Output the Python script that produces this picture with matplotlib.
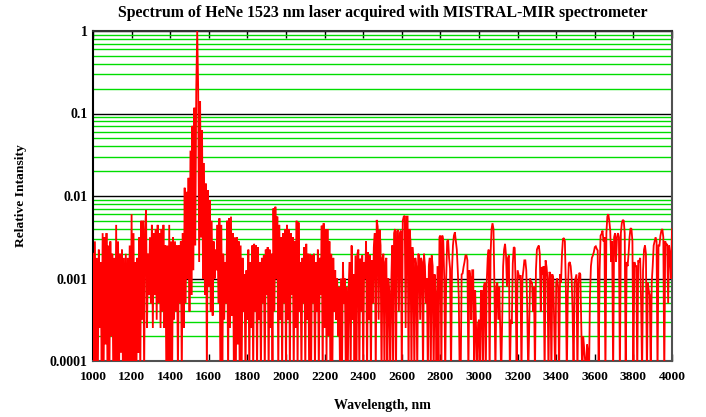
import numpy as np
import matplotlib
matplotlib.use("Agg")
import matplotlib.pyplot as plt
from matplotlib.ticker import FixedLocator, NullFormatter

STEP_NM = 5
log_i_1000 = [-2.7, -4.2, -2.55, -4.2, -2.75, -4.2, -2.65, -3.6, -2.8, -4.2,
              -2.45, -4.2, -2.5, -3.8, -2.45, -4.2, -2.6, -4.2, -2.55, -3.7,
              -2.7, -4.2, -2.75, -4.2, -2.35, -4.2, -2.55, -4.2, -2.7, -3.9,
              -2.65, -4.2, -2.75, -4.2, -2.7, -4.2, -2.75, -4.2, -2.6, -4.2,
              -2.22, -4.2, -2.45, -4.2, -2.8, -4.2, -2.75, -3.9, -2.5, -4.2,
              -2.3, -3.5, -2.3, -4.2, -2.4, -2.17, -3.6, -2.7, -3.2, -2.5,
              -3.3, -2.35, -3.6, -2.45, -3.2, -2.4, -3.5, -2.35, -3.3, -2.45,
              -3.6, -2.4, -3.4, -2.35, -3.6, -2.6, -4.2, -2.6, -4.2, -2.35,
              -4.2, -2.55, -4.2, -2.5, -3.5, -2.55, -3.4, -2.6, -4.2, -2.6,
              -3.3, -2.55, -4.2, -2.45, -3.6, -1.9, -3.3, -1.95, -3.0, -1.78]
log_i_1500 = [-3.4, -1.45, -3.2, -1.15, -2.9, -0.93, -2.6, -0.7, 0.0, -0.7,
              -2.8, -0.85, -2.5, -1.2, -3.0, -1.6, -3.2, -1.85, -4.2, -1.93,
              -3.1, -2.05, -3.4, -2.3, -3.45, -2.55, -3.0, -2.65, -2.9, -2.35,
              -3.3, -2.27, -4.2, -2.35, -4.2, -2.7, -3.5, -2.8, -3.3, -2.3,
              -4.2, -2.27, -3.6, -2.25, -3.45, -2.45, -4.2, -2.5, -4.2, -2.5,
              -3.8, -2.55, -4.2, -2.6, -4.2, -2.75, -3.4, -2.95, -4.2, -2.9,
              -3.5, -2.65, -4.2, -2.8, -3.6, -2.6, -4.2, -2.58, -3.4, -2.6,
              -4.2, -2.62, -3.5, -2.8, -4.2, -2.75, -3.3, -2.72, -4.2, -2.65,
              -3.2, -2.62, -4.2, -2.65, -3.6, -2.7, -4.2, -2.15, -3.4, -2.13,
              -3.0, -2.25, -4.2, -2.35, -3.5, -2.5, -4.2, -2.45, -3.3, -2.4]
log_i_2000 = [-4.2, -2.35, -3.5, -2.4, -4.2, -2.45, -3.2, -2.5, -4.2, -2.55,
              -3.6, -2.3, -4.2, -2.32, -3.4, -2.8, -4.2, -2.75, -3.3, -2.62,
              -4.2, -2.58, -3.5, -2.7, -4.2, -2.7, -4.2, -2.72, -3.3, -2.7,
              -4.2, -2.8, -3.4, -2.65, -4.2, -2.75, -3.2, -2.36, -4.2, -2.33,
              -3.6, -2.4, -4.0, -2.4, -3.7, -2.55, -4.2, -2.7, -4.2, -2.75,
              -3.4, -2.9, -3.5, -3.0, -3.7, -3.1, -4.2, -3.0, -4.2, -2.8,
              -3.3, -3.0, -4.2, -3.1, -4.2, -3.1, -2.8, -4.2, -2.6, -3.5,
              -2.95, -4.2, -2.72, -4.2, -2.7, -2.65, -4.2, -2.76, -3.4, -2.72,
              -4.2, -2.8, -3.0, -2.55, -4.2, -2.68, -3.5, -2.72, -4.2, -2.78,
              -3.3, -2.62, -2.45, -4.2, -2.29, -2.37, -3.5, -2.41, -2.6, -4.2]
log_i_2500 = [-2.75, -2.7, -4.2, -2.8, -2.75, -4.2, -3.0, -3.15, -4.2, -3.1,
              -2.6, -4.2, -2.45, -2.4, -4.2, -2.43, -2.41, -3.4, -2.45, -2.42,
              -4.2, -2.3, -2.25, -2.24, -3.6, -2.25, -2.25, -4.2, -2.4, -2.55,
              -4.2, -2.62, -2.8, -4.2, -2.75, -2.85, -4.2, -2.7, -2.72, -3.5,
              -2.75, -2.8, -4.2, -2.7, -2.85, -3.3, -3.0, -4.2, -2.85, -2.75,
              -4.2, -2.72, -2.85, -4.2, -2.95, -3.2, -4.2, -2.85, -4.2, -2.5,
              -2.48, -4.2, -2.48, -2.55, -3.0, -4.2, -3.0, -2.55, -2.53, -2.75,
              -2.88, -4.2, -2.9, -2.6, -2.48, -2.44, -2.55, -2.65, -2.9, -3.2,
              -4.2, -4.2, -2.95, -2.94, -2.86, -2.8, -2.72, -2.72, -2.78, -4.2,
              -2.9, -2.98, -3.5, -2.9, -2.9, -4.2, -3.14, -3.6, -4.2, -3.55]
log_i_3000 = [-3.5, -4.2, -3.15, -3.15, -4.2, -3.1, -3.05, -4.2, -3.05, -2.75,
              -2.65, -4.2, -2.7, -2.4, -2.33, -2.4, -3.1, -4.2, -3.1, -3.05,
              -3.5, -3.1, -3.6, -4.2, -3.55, -2.85, -2.65, -2.58, -2.72, -3.1,
              -2.75, -2.72, -4.2, -3.5, -3.55, -2.82, -2.62, -2.63, -3.1, -4.2,
              -2.9, -2.95, -3.0, -2.96, -4.2, -3.0, -2.9, -2.78, -2.78, -2.9,
              -3.36, -4.2, -3.6, -3.0, -3.05, -3.05, -3.4, -3.1, -4.2, -2.9,
              -2.65, -2.62, -2.6, -2.7, -3.4, -2.86, -2.95, -2.85, -4.2, -2.78,
              -2.86, -3.0, -4.2, -2.92, -2.95, -4.2, -2.95, -3.0, -3.6, -4.2,
              -3.05, -3.0, -3.1, -4.2, -2.95, -3.05, -2.7, -2.52, -2.51, -2.55,
              -3.1, -4.2, -3.2, -2.82, -2.8, -2.85, -3.0, -3.4, -4.2, -3.05]
log_i_3500 = [-3.0, -2.95, -4.2, -3.05, -2.93, -2.95, -3.6, -4.2, -3.7, -3.85,
              -4.0, -4.2, -3.8, -3.9, -4.2, -3.2, -2.85, -2.75, -2.72, -2.68,
              -2.62, -2.61, -2.64, -2.66, -4.2, -2.9, -2.48, -2.46, -2.42, -2.55,
              -2.5, -4.2, -2.45, -2.25, -2.22, -2.3, -2.42, -2.8, -2.55, -4.2,
              -2.5, -2.45, -2.8, -2.5, -2.45, -2.5, -4.2, -2.45, -2.33, -2.29,
              -2.3, -2.45, -4.2, -2.8, -2.85, -2.7, -2.5, -2.39, -2.4, -2.55,
              -4.2, -2.8, -2.85, -2.85, -4.2, -2.78, -2.8, -2.75, -3.3, -4.2,
              -2.9, -2.65, -2.6, -2.7, -4.2, -3.05, -3.15, -3.2, -4.2, -3.05,
              -2.85, -2.6, -2.55, -2.5, -2.55, -4.2, -2.6, -2.6, -2.48, -2.42,
              -2.4, -2.5, -4.2, -2.55, -2.6, -2.58, -3.3, -2.6, -2.7, -3.0,
              -2.4]
segments = [(1000, log_i_1000), (1500, log_i_1500), (2000, log_i_2000),
            (2500, log_i_2500), (3000, log_i_3000), (3500, log_i_3500)]

x_ticks = [1000, 1200, 1400, 1600, 1800, 2000, 2200, 2400, 2600, 2800,
           3000, 3200, 3400, 3600, 3800, 4000]
y_ticks = [1e-4, 1e-3, 1e-2, 1e-1, 1]
y_tick_labels = ["0.0001", "0.001", "0.01", "0.1", "1"]

wl = np.concatenate([start + STEP_NM * np.arange(len(v)) for start, v in segments])
inten = 10.0 ** np.concatenate([np.asarray(v, float) for _, v in segments])

plt.rcParams['font.family'] = ['Liberation Serif', 'DejaVu Serif']
plt.rcParams['font.weight'] = 'bold'

fig = plt.figure(figsize=(7.06, 4.17), dpi=100)
ax = fig.add_axes([93/706, 56/417, 579/706, 330/417])

ax.plot(wl, inten, color='#ff0000', lw=1.3, zorder=3, solid_joinstyle='miter')

ax.set_yscale('log')
ax.set_xlim(1000, 4000)
ax.set_ylim(1e-4, 1)

ax.set_yticks(y_ticks)
ax.set_yticklabels(y_tick_labels)
minor = [m * 10.0**e for e in range(-4, 0) for m in range(2, 10)]
ax.yaxis.set_minor_locator(FixedLocator(minor))
ax.yaxis.set_minor_formatter(NullFormatter())
ax.set_xticks(x_ticks)
ax.set_xticklabels([str(t) for t in x_ticks])

ax.yaxis.grid(True, which='minor', color='#00dd00', lw=1.0, zorder=1)
ax.yaxis.grid(True, which='major', color='black', lw=1.0, zorder=1)
ax.set_axisbelow(True)

ax.tick_params(axis='y', which='both', length=0, pad=4, labelsize=10)
ax.tick_params(axis='x', which='major', direction='in', length=5, width=1,
               top=True, bottom=True, pad=7, labelsize=9.7)
for s in ax.spines.values():
    s.set_color('#505050')
    s.set_linewidth(1.5)
ax.spines['left'].set_color('black')
ax.spines['top'].set_color('#303030')

ax.set_title("Spectrum of HeNe 1523 nm laser acquired with MISTRAL-MIR spectrometer",
             fontsize=11.4, fontweight='bold', pad=10)
ax.set_xlabel("Wavelength, nm", fontsize=10, fontweight='bold', labelpad=12)
ax.set_ylabel("Relative Intansity", fontsize=9.7, fontweight='bold', labelpad=16)

fig.savefig("out.png", dpi=100)
